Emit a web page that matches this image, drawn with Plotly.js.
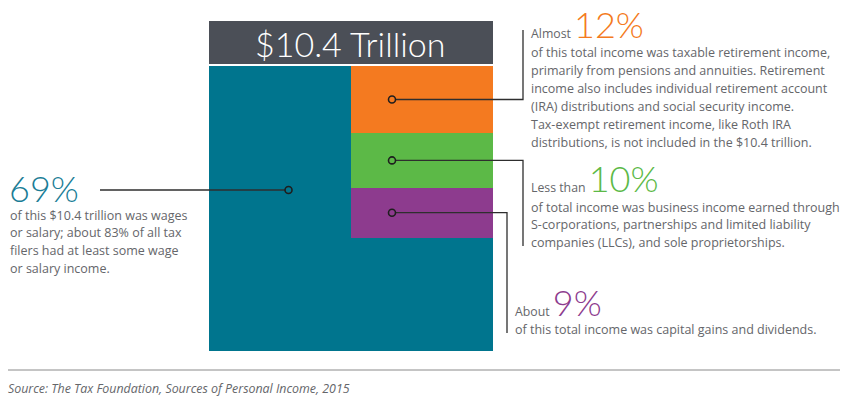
<!DOCTYPE html>
<html><head><meta charset="utf-8">
<script src="https://cdn.plot.ly/plotly-3.0.1.min.js"></script>
<style>html,body{margin:0;padding:0;background:#fff;}#chart{width:850px;height:399px;}</style>
</head><body><div id="chart"></div>
<script>
// ---- data ----
const categories = ["Wages or salary", "Taxable retirement income", "Business income", "Capital gains and dividends"];
const shares = [69, 11.6, 9.5, 8.6];
const pctLabels = ["69%", "12%", "10%", "9%"];
const prefixes = ["", "Almost", "Less than", "About"];
const desc0 = ["of this $10.4 trillion was wages", "or salary; about 83% of all tax", "filers had at least some wage", "or salary income."];
const desc1 = ["of this total income was taxable retirement income,", "primarily from pensions and annuities. Retirement", "income also includes individual retirement account", "(IRA) distributions and social security income.", "Tax-exempt retirement income, like Roth IRA", "distributions, is not included in the $10.4 trillion."];
const desc2 = ["of total income was business income earned through", "S-corporations, partnerships and limited liability", "companies (LLCs), and sole proprietorships."];
const desc3 = ["of this total income was capital gains and dividends."];
const descriptions = [desc0, desc1, desc2, desc3];
const totalLabel = "$10.4 Trillion";
const sourceText = "Source: The Tax Foundation, Sources of Personal Income, 2015";

// ---- style ----
const colors = ["#00758e", "#f47a20", "#5cb947", "#8d3b8e"];
const textColors = ["#1a7d96", "#f47a20", "#5cb947", "#8d3b8e"];
const grey = "#65666a";
const W = 850, H = 399;
const BX0 = 209, BX1 = 493, BY0 = 66, BY1 = 351;
const T = shares.reduce((a, b) => a + b, 0);
const xUnit = (BX1 - BX0) / 2;
const yUnit = (BY1 - BY0) / T;
const dx = p => (p - BX0) / xUnit;
const dy = p => (BY1 - p) / yUnit;
const FONT = "Lato, 'Open Sans', sans-serif";
const BODY = "'Open Sans', Lato, sans-serif";

const traces = [];
traces.push({type: 'bar', name: categories[0], x: [1], y: [T], base: [0], width: [2],
  marker: {color: colors[0], line: {width: 0}}, hoverinfo: 'skip'});
const dotX = [0.56, dx(392), dx(392), dx(392)];
const dotY = [0.565 * T];
let stackTop = T;
for (let i = 1; i < shares.length; i++) {
  const h = 2 * shares[i];
  const base = stackTop - h;
  traces.push({type: 'bar', name: categories[i], x: [1.5], y: [h], base: [base], width: [1],
    marker: {color: colors[i], line: {width: 0}}, hoverinfo: 'skip'});
  dotY.push(base + h / 2);
  stackTop = base;
}
const elbowX = [null, 523, 523, 507];
const endY = [null, 30, 246, 333];
for (let i = 0; i < shares.length; i++) {
  let xs, ys;
  if (i === 0) { xs = [dotX[0], dx(100)]; ys = [dotY[0], dotY[0]]; }
  else { xs = [dotX[i], dx(elbowX[i]), dx(elbowX[i])]; ys = [dotY[i], dotY[i], dy(endY[i])]; }
  traces.push({type: 'scatter', mode: 'lines', x: xs, y: ys, line: {color: '#2e2e2e', width: 1.3},
    hoverinfo: 'skip', cliponaxis: false});
}
traces.push({type: 'scatter', mode: 'markers', x: dotX, y: dotY,
  marker: {size: 7, color: colors, line: {color: '#1e1e1e', width: 1.6}}, hoverinfo: 'skip'});

const ann = (text, xp, yp, o = {}) => Object.assign({
  text, x: xp / W, y: 1 - yp / H, xref: 'paper', yref: 'paper', showarrow: false,
  xanchor: 'left', yanchor: 'middle', font: {family: BODY, size: 12.5, color: grey}
}, o);

const annotations = [];
annotations.push(ann(totalLabel, 350, 43, {xanchor: 'center', font: {family: FONT, size: 34, color: '#ffffff', weight: 300}}));
const headPos = [[7, 188], [529, 24], [529, 178], [513, 302]];
for (let i = 0; i < shares.length; i++) {
  const big = `<span style="font-family:Lato;font-size:36px;font-weight:300;color:${textColors[i]}">${pctLabels[i]}</span>`;
  const t = prefixes[i] ? prefixes[i] + " " + big : big;
  annotations.push(ann(t, headPos[i][0], headPos[i][1], {font: {family: BODY, size: 12.3, color: grey}}));
}
const descPos = [[8, 215], [529, 53], [529, 207], [513, 329]];
for (let i = 0; i < descriptions.length; i++) {
  descriptions[i].forEach((line, j) => {
    annotations.push(ann(line, descPos[i][0], descPos[i][1] + j * 17.8));
  });
}
annotations.push(ann(sourceText, 6, 388, {font: {family: BODY, size: 12.4, color: grey, style: 'italic'}}));

const shapes = [
  {type: 'rect', xref: 'x', yref: 'y', x0: 0, x1: 2, y0: dy(64), y1: dy(21), fillcolor: '#4b4f57', line: {width: 0}, layer: 'below'},
  {type: 'line', xref: 'paper', yref: 'paper', x0: 8 / W, x1: 840 / W, y0: 1 - 370 / H, y1: 1 - 370 / H, line: {color: '#8a8a8a', width: 1}}
];

const layout = {
  width: W, height: H, margin: {l: 0, r: 0, t: 0, b: 0},
  paper_bgcolor: '#fff', plot_bgcolor: 'rgba(0,0,0,0)',
  barmode: 'overlay', bargap: 0, showlegend: false,
  xaxis: {range: [dx(0), dx(W)], visible: false, fixedrange: true},
  yaxis: {range: [dy(H), dy(0)], visible: false, fixedrange: true},
  shapes, annotations
};
Plotly.newPlot('chart', traces, layout, {displayModeBar: false, staticPlot: true});
</script></body></html>
